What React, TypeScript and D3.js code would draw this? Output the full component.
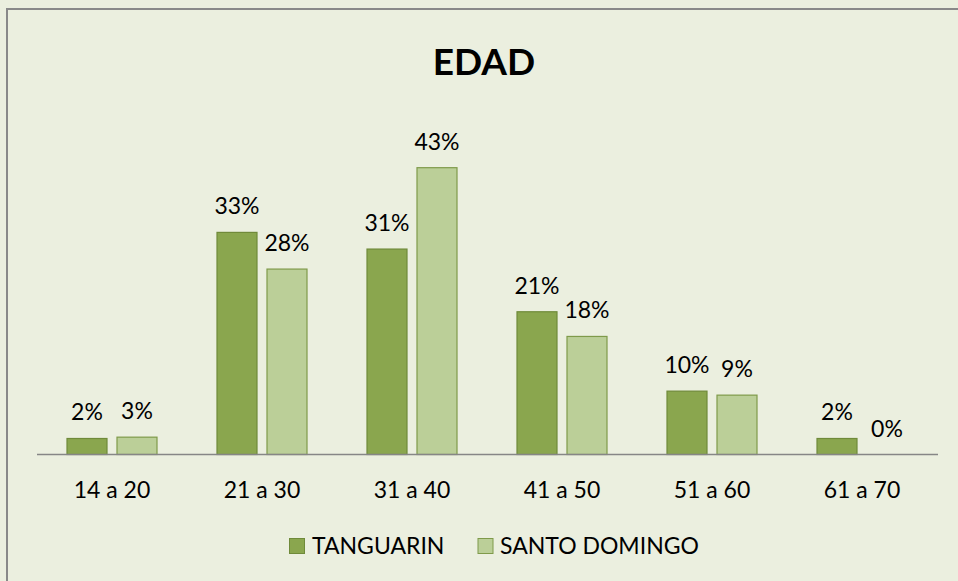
import React from "react";
import * as d3 from "d3";

const categories = ["14 a 20", "21 a 30", "31 a 40", "41 a 50", "51 a 60", "61 a 70"];
const seriesNames = ["TANGUARIN", "SANTO DOMINGO"];
const tanguarin = [2.4, 33.3, 30.8, 21.4, 9.5, 2.4];
const santoDomingo = [2.6, 27.8, 43.0, 17.7, 8.9, 0];
const title = "EDAD";

const W = 958;
const H = 581;
const FONT = "Lato, 'Open Sans', sans-serif";
const fills = ["#8AA64E", "#BBCF98"];
const strokes = ["#6F8A3A", "#7F9A4A"];

export default function App() {
  const x0 = d3.scaleBand<string>().domain(categories).range([37, 937]).paddingInner(0).paddingOuter(0);
  const x1 = d3
    .scaleBand<string>()
    .domain(seriesNames)
    .range([0, x0.bandwidth()])
    .paddingInner(0.2)
    .paddingOuter(0.6);
  const y = d3.scaleLinear().domain([0, 50]).range([454.5, 121]);
  const data = [tanguarin, santoDomingo];

  return (
    <svg width={W} height={H} style={{ position: "absolute", left: 0, top: 0 }}>
      <rect x={0} y={0} width={W} height={H} fill="#EBEFDF" />
      <rect x={7} y={9} width={W + 10} height={H + 10} fill="#EBEFDF" stroke="#898989" strokeWidth={2} />
      <text x={484} y={75} textAnchor="middle" fontFamily={FONT} fontWeight="bold" fontSize={37} fill="#000">
        {title}
      </text>
      {categories.map((c, i) => (
        <g key={c}>
          {seriesNames.map((s, j) => {
            const v = data[j][i];
            const bx = (x0(c) as number) + (x1(s) as number);
            const top = y(v);
            return (
              <g key={s}>
                {v > 0 && (
                  <rect
                    x={bx}
                    y={top}
                    width={x1.bandwidth()}
                    height={y(0) - top}
                    fill={fills[j]}
                    stroke={strokes[j]}
                    strokeWidth={1.2}
                  />
                )}
                <text
                  x={bx + x1.bandwidth() / 2}
                  y={top - 18}
                  textAnchor="middle"
                  fontFamily={FONT}
                  fontSize={23}
                  fill="#000"
                >
                  {Math.round(v) + "%"}
                </text>
              </g>
            );
          })}
          <text
            x={(x0(c) as number) + x0.bandwidth() / 2}
            y={498}
            textAnchor="middle"
            fontFamily={FONT}
            fontSize={23}
            fill="#000"
          >
            {c}
          </text>
        </g>
      ))}
      <line x1={37} x2={938} y1={y(0)} y2={y(0)} stroke="#868686" strokeWidth={1.7} />
      {/* legend */}
      <rect x={289.5} y={538.5} width={15} height={15} fill={fills[0]} stroke={strokes[0]} strokeWidth={1} />
      <text x={312} y={554} fontFamily={FONT} fontSize={23} fill="#000">
        {seriesNames[0]}
      </text>
      <rect x={478} y={538.5} width={15} height={15} fill={fills[1]} stroke={strokes[1]} strokeWidth={1} />
      <text x={500} y={554} fontFamily={FONT} fontSize={23} fill="#000">
        {seriesNames[1]}
      </text>
    </svg>
  );
}
